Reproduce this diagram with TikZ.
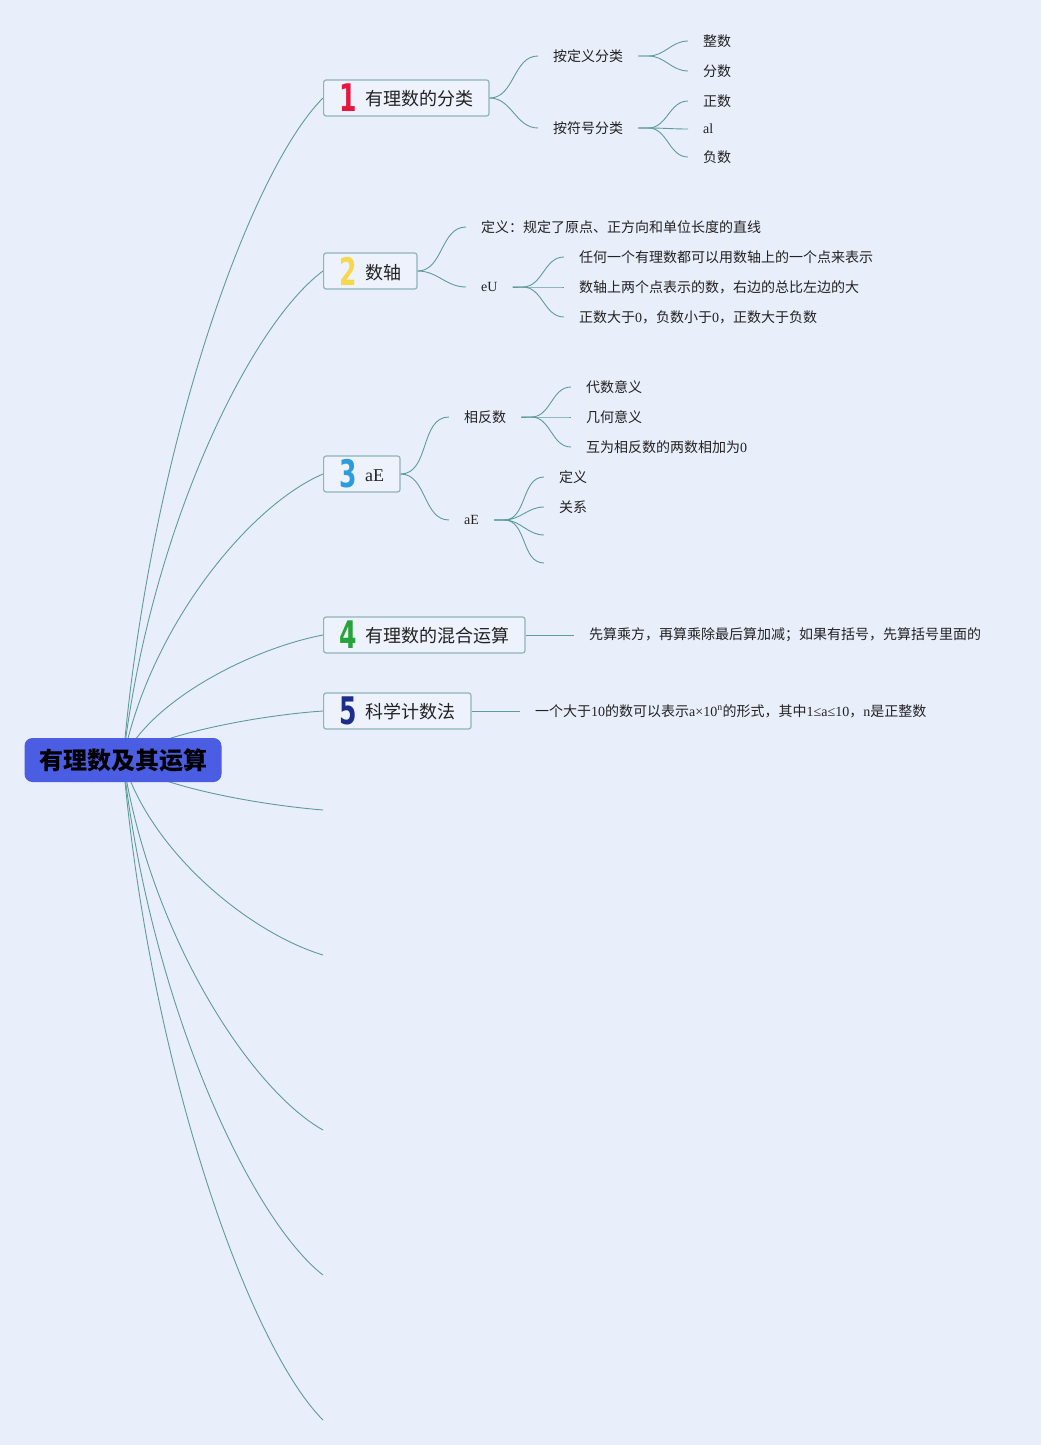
\documentclass[tikz,border=0pt]{standalone}
\usepackage{fontspec}
\usepackage{tikz}
\usetikzlibrary{backgrounds}
\setmainfont{Noto Sans CJK SC}
\newfontfamily\lat{Liberation Serif}
\newfontfamily\numfont{DejaVu Sans}

\definecolor{bgc}{HTML}{E9EEFB}
\definecolor{boxfill}{HTML}{EDF2FC}
\definecolor{boxline}{HTML}{8DB4B8}
\definecolor{linec}{HTML}{5E9C98}
\definecolor{rootc}{HTML}{4A5DE3}
\definecolor{txt}{HTML}{222222}
\definecolor{n1}{HTML}{E5173F}
\definecolor{n2}{HTML}{F7D84B}
\definecolor{n3}{HTML}{2D9CDB}
\definecolor{n4}{HTML}{27A33A}
\definecolor{n5}{HTML}{1E2D8C}

\newcommand\topicnum[2]{\raisebox{-6pt}{\color{#1}\numfont\bfseries\fontsize{38}{38}\selectfont\scalebox{0.66}[1]{#2}}\hspace{8pt}}

\tikzset{
  root/.style={fill=rootc, rounded corners=8pt, minimum width=197pt, minimum height=44pt, inner xsep=14pt, text=black, font=\fontsize{24}{26}\selectfont\bfseries},
  topic/.style={draw=boxline, fill=boxfill, rounded corners=2.5pt, line width=1.2pt, minimum height=36pt, inner xsep=16pt, inner ysep=2pt, anchor=west, text=txt, font=\fontsize{18}{20}\selectfont},
  sub/.style={inner xsep=15pt, inner ysep=2pt, anchor=west, text=txt, font=\fontsize{14}{16}\selectfont},
  link/.style={draw=linec, line width=0.9pt},
}

\begin{document}
\begin{tikzpicture}[x=1pt, y=-1pt]
\useasboundingbox (0,0) rectangle (1041,1445);

\node (root) at (123,760) [root] {有理数及其运算};

% main topics
\node (b1) at (323,98) [topic] {\topicnum{n1}{1}有理数的分类};
\node (b2) at (323,271) [topic] {\topicnum{n2}{2}数轴};
\node (b3) at (323,474) [topic] {\topicnum{n3}{3}{\lat aE}};
\node (b4) at (323,635) [topic] {\topicnum{n4}{4}有理数的混合运算};
\node (b5) at (323,711) [topic] {\topicnum{n5}{5}科学计数法};

\coordinate (r6) at (323,810);
\coordinate (r7) at (323,955);
\coordinate (r8) at (323,1130);
\coordinate (r9) at (323,1275);
\coordinate (r10) at (323,1420);

% branch 1
\node (c11) at (538,56) [sub] {按定义分类};
	\node (c111) at (688,41) [sub] {整数};
	\node (c112) at (688,71) [sub] {分数};
\node (c12) at (538,128) [sub] {按符号分类};
	\node (c121) at (688,101) [sub] {正数};
	\node (c122) at (688,129) [sub] {\lat al};
	\node (c123) at (688,157) [sub] {负数};

% branch 2
\node (c21) at (466,227) [sub] {定义：规定了原点、正方向和单位长度的直线};
\node (c22) at (466,287) [sub] {\lat eU};
	\node (c221) at (564,257) [sub] {任何一个有理数都可以用数轴上的一个点来表示};
	\node (c222) at (564,287) [sub] {数轴上两个点表示的数，右边的总比左边的大};
	\node (c223) at (564,317) [sub] {正数大于{\lat 0}，负数小于{\lat 0}，正数大于负数};

% branch 3
\node (c31) at (449,417) [sub] {相反数};
	\node (c311) at (571,387) [sub] {代数意义};
	\node (c312) at (571,417) [sub] {几何意义};
	\node (c313) at (571,447) [sub] {互为相反数的两数相加为{\lat 0}};
\node (c32) at (449,520) [sub] {\lat aE};
	\node (c321) at (544,477) [sub] {定义};
	\node (c322) at (544,507) [sub] {关系};
	\coordinate (c323) at (544,535);
	\coordinate (c324) at (544,563);

% branch 4 and 5
\node (c41) at (574,635) [sub] {先算乘方，再算乘除最后算加减；如果有括号，先算括号里面的};
\node (c51) at (520,711) [sub] {一个大于{\lat 10}的数可以表示{\lat a×10\textsuperscript{n}}的形式，其中{\lat 1≤a≤10}，{\lat n}是正整数};

\begin{scope}[on background layer]
\fill[bgc] (0,0) rectangle (1041,1445);
\draw[link] (root.center) .. controls (150,449) and (250,171) .. (b1.west);
\draw[link] (root.center) .. controls (150,530) and (250,325) .. (b2.west);
\draw[link] (root.center) .. controls (150,626) and (250,505) .. (b3.west);
\draw[link] (root.center) .. controls (150,701) and (250,649) .. (b4.west);
\draw[link] (root.center) .. controls (150,737) and (250,716) .. (b5.west);
\draw[link] (root.center) .. controls (150,784) and (250,804) .. (r6);
\draw[link] (root.center) .. controls (150,852) and (250,933) .. (r7);
\draw[link] (root.center) .. controls (150,934) and (250,1089) .. (r8);
\draw[link] (root.center) .. controls (150,1002) and (250,1218) .. (r9);
\draw[link] (root.center) .. controls (150,1070) and (250,1347) .. (r10);
\end{scope}

\draw[link] (b1.east) to[out=0, in=180] (c11.west);
\draw[link] (b1.east) to[out=0, in=180] (c12.west);
\foreach \c in {c111,c112}
	\draw[link] (c11.east) -- ++(10,0) to[out=0, in=180] (\c.west);
\foreach \c in {c121,c122,c123}
	\draw[link] (c12.east) -- ++(10,0) to[out=0, in=180] (\c.west);

\draw[link] (b2.east) to[out=0, in=180] (c21.west);
\draw[link] (b2.east) to[out=0, in=180] (c22.west);
\foreach \c in {c221,c222,c223}
	\draw[link] (c22.east) -- ++(10,0) to[out=0, in=180] (\c.west);

\draw[link] (b3.east) to[out=0, in=180] (c31.west);
\draw[link] (b3.east) to[out=0, in=180] (c32.west);
\foreach \c in {c311,c312,c313}
	\draw[link] (c31.east) -- ++(10,0) to[out=0, in=180] (\c.west);
\foreach \c in {c321.west,c322.west,c323,c324}
	\draw[link] (c32.east) -- ++(10,0) to[out=0, in=180] (\c);

\draw[link] (b4.east) -- (c41.west);
\draw[link] (b5.east) -- (c51.west);
\end{tikzpicture}
\end{document}
